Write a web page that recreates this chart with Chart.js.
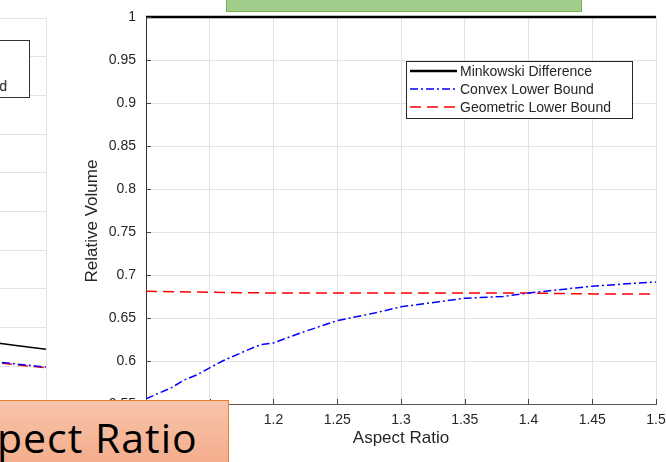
<!DOCTYPE html>
<html>
<head>
<meta charset="utf-8">
<script src="https://cdn.jsdelivr.net/npm/chart.js@4"></script>
<style>
  body { margin: 0; width: 666px; height: 462px; overflow: hidden; position: relative; background: #fff; font-family: "Liberation Sans", Arial, sans-serif; }
  #leftChart { position: absolute; left: -254px; top: 0; }
  #mainChart { position: absolute; left: 0; top: 0; }
  #leftLegend { position: absolute; left: -199px; top: 40px; width: 229px; height: 58px; box-sizing: border-box; border: 1.5px solid #333; background: #fff; padding: 3px 0 0 54px; font-size: 14px; line-height: 17px; color: #262626; white-space: nowrap; }
  #banner { position: absolute; left: 226px; top: -10px; width: 356px; height: 22px; box-sizing: border-box; background: #a1cc8a; border: 1px solid #76b050; }
  #caption { position: absolute; left: -1px; top: 400px; width: 230px; height: 80px; box-sizing: border-box; background: linear-gradient(#f8c4aa, #f2a783); border: 1px solid #ed7d31; }
  #caption span { position: absolute; left: -3px; top: 8px; font-family: "Open Sans", sans-serif; font-size: 41px; letter-spacing: 1px; line-height: 56px; color: #000; white-space: nowrap; }
</style>
</head>
<body>
<canvas id="leftChart" width="301" height="462"></canvas>
<div id="leftLegend">Minkowski Difference<br>Convex Lower Bound<br>Geometric Lower Bound</div>
<canvas id="mainChart" width="666" height="462"></canvas>
<div id="banner"></div>
<div id="caption"><span>pect Ratio</span></div>
<script>
// Dados do gráfico principal
const aspectRatio = [1.10, 1.15, 1.20, 1.25, 1.30, 1.35, 1.40, 1.45, 1.50];
const minkowski = [1, 1, 1, 1, 1, 1, 1, 1, 1];
const geometricBound = [0.681, 0.680, 0.679, 0.679, 0.679, 0.679, 0.679, 0.678, 0.678];
const convexRatio = [1.10, 1.12, 1.13, 1.14, 1.16, 1.18, 1.19, 1.20, 1.22, 1.25, 1.28, 1.30, 1.33, 1.35, 1.38, 1.40, 1.45, 1.50];
const convexBound = [0.556, 0.569, 0.578, 0.584, 0.600, 0.613, 0.619, 0.621, 0.632, 0.647, 0.656, 0.663, 0.669, 0.673, 0.675, 0.679, 0.687, 0.692];
const xTicks = [1.1, 1.15, 1.2, 1.25, 1.3, 1.35, 1.4, 1.45, 1.5];
const yTicks = [0.55, 0.6, 0.65, 0.7, 0.75, 0.8, 0.85, 0.9, 0.95, 1];

// Dados do gráfico da esquerda (só a ponta aparece)
const leftRatio = [1.8, 1.9, 2.0];
const leftMinkowski = [0.582, 0.577, 0.572];
const leftConvex = [0.557, 0.553, 0.549];
const leftGeometric = [0.556, 0.552, 0.548];

const FONT = '"Liberation Sans", Arial, sans-serif';
const pts = (xs, ys) => xs.map((x, i) => ({ x: x, y: ys[i] }));
const fmt = v => String(Number(v.toFixed(2)));

// Marcas de escala para dentro, título do eixo y e legenda
const extras = {
    id: 'extras',
    afterDatasetsDraw(chart) {
        const { ctx, chartArea: a, scales } = chart;
        ctx.save();
        ctx.strokeStyle = '#444';
        ctx.lineWidth = 1;
        ctx.beginPath();
        yTicks.forEach(v => {
            const y = Math.round(scales.y.getPixelForValue(v)) + 0.5;
            ctx.moveTo(a.left, y); ctx.lineTo(a.left + 5, y);
        });
        xTicks.forEach(v => {
            const x = Math.round(scales.x.getPixelForValue(v)) + 0.5;
            ctx.moveTo(x, a.bottom); ctx.lineTo(x, a.bottom - 5);
        });
        ctx.stroke();

        ctx.fillStyle = '#262626';
        ctx.font = '17px ' + FONT;
        ctx.textAlign = 'center';
        ctx.textBaseline = 'middle';
        ctx.translate(92, 221);
        ctx.rotate(-Math.PI / 2);
        ctx.fillText('Relative Volume', 0, 0);
        ctx.restore();

        // Legenda desenhada dentro da área do gráfico
        ctx.save();
        const bx = 406.5, by = 61.5, bw = 226, bh = 57;
        ctx.fillStyle = '#fff';
        ctx.fillRect(bx, by, bw, bh);
        ctx.strokeStyle = '#262626';
        ctx.lineWidth = 1;
        ctx.strokeRect(bx, by, bw, bh);
        ctx.font = '14px ' + FONT;
        ctx.textAlign = 'left';
        ctx.textBaseline = 'middle';
        chart.data.datasets.forEach((ds, i) => {
            const y = 71 + i * 18;
            ctx.strokeStyle = ds.borderColor;
            ctx.lineWidth = ds.borderWidth;
            ctx.setLineDash(ds.borderDash || []);
            ctx.beginPath();
            ctx.moveTo(410, y); ctx.lineTo(457, y);
            ctx.stroke();
            ctx.fillStyle = '#262626';
            ctx.fillText(ds.label, 460, y + 1);
        });
        ctx.restore();
    }
};

new Chart(document.getElementById('mainChart'), {
    type: 'line',
    data: {
        datasets: [
            { label: 'Minkowski Difference', data: pts(aspectRatio, minkowski), borderColor: '#000', borderWidth: 2.5, clip: false },
            { label: 'Convex Lower Bound', data: pts(convexRatio, convexBound), borderColor: '#0000ff', borderWidth: 1.5, borderDash: [8, 3, 2, 3] },
            { label: 'Geometric Lower Bound', data: pts(aspectRatio, geometricBound), borderColor: '#ff0000', borderWidth: 1.5, borderDash: [11, 6] }
        ]
    },
    options: {
        responsive: false,
        animation: false,
        layout: { padding: { top: 17, right: 10, left: 0, bottom: 0 } },
        elements: { point: { radius: 0 }, line: { tension: 0 } },
        plugins: { legend: { display: false }, tooltip: { enabled: false } },
        scales: {
            x: {
                type: 'linear',
                min: 1.1,
                max: 1.5,
                afterBuildTicks: s => { s.ticks = xTicks.map(v => ({ value: v })); },
                afterFit: s => { s.height = 58; s.paddingLeft = 0; s.paddingRight = 0; },
                grid: { color: '#e3e3e3', drawTicks: false },
                border: { color: '#555', width: 1 },
                ticks: { color: '#262626', font: { family: FONT, size: 14 }, padding: 8, maxRotation: 0, callback: fmt },
                title: { display: true, text: 'Aspect Ratio', color: '#262626', font: { family: FONT, size: 17 }, padding: { top: 0, bottom: 13 } }
            },
            y: {
                min: 0.55,
                max: 1,
                afterBuildTicks: s => { s.ticks = yTicks.map(v => ({ value: v })); },
                afterFit: s => { s.width = 146; s.paddingTop = 0; s.paddingBottom = 0; },
                grid: { color: '#e3e3e3', drawTicks: false },
                border: { color: '#333', width: 1 },
                ticks: { color: '#262626', font: { family: FONT, size: 14 }, padding: 10, callback: fmt }
            }
        }
    },
    plugins: [extras]
});

// Gráfico vizinho à esquerda, quase todo fora da tela
new Chart(document.getElementById('leftChart'), {
    type: 'line',
    data: {
        datasets: [
            { data: pts(leftRatio, leftMinkowski), borderColor: '#000', borderWidth: 1.5 },
            { data: pts(leftRatio, leftConvex), borderColor: '#0000ff', borderWidth: 1.5, borderDash: [8, 3, 2, 3] },
            { data: pts(leftRatio, leftGeometric), borderColor: '#ff0000', borderWidth: 1.5, borderDash: [10, 6] }
        ]
    },
    options: {
        responsive: false,
        animation: false,
        layout: { padding: { top: 18, right: 1, left: 0, bottom: 57 } },
        elements: { point: { radius: 0 }, line: { tension: 0 } },
        plugins: { legend: { display: false }, tooltip: { enabled: false } },
        scales: {
            x: {
                type: 'linear', min: 1, max: 2,
                ticks: { display: false, stepSize: 0.25 },
                afterFit: s => { s.height = 0; },
                grid: { color: '#e3e3e3', drawTicks: false },
                border: { display: false }
            },
            y: {
                min: 0.5, max: 1,
                ticks: { display: false, stepSize: 0.05 },
                afterFit: s => { s.width = 0; },
                grid: { color: '#e3e3e3', drawTicks: false },
                border: { display: false }
            }
        }
    }
});
</script>
</body>
</html>
